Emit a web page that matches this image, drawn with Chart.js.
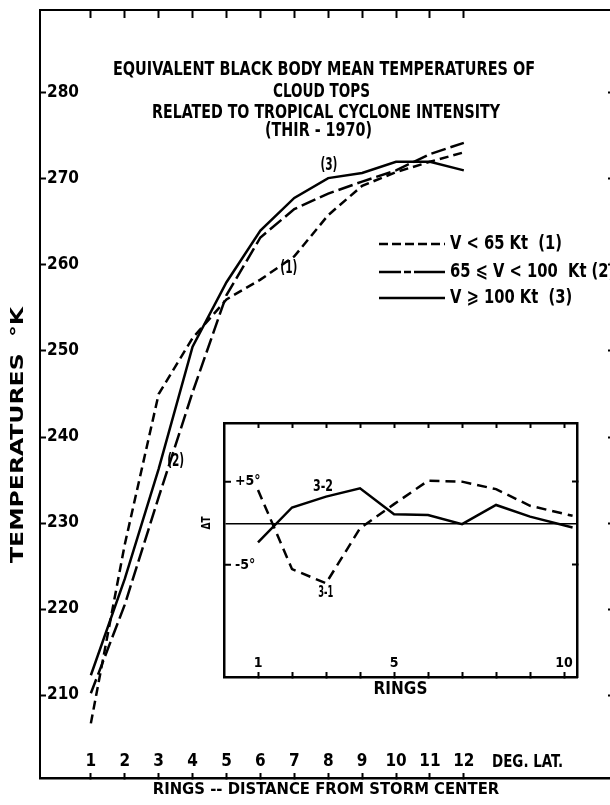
<!DOCTYPE html>
<html><head><meta charset="utf-8">
<script src="https://cdn.jsdelivr.net/npm/chart.js@4.4.1/dist/chart.umd.min.js"></script>
<style>
html,body{margin:0;padding:0;background:#fff;overflow:hidden;width:610px;height:805px;}
#wrap{position:relative;width:610px;height:805px;overflow:hidden;background:#fff;}
#main{position:absolute;left:0;top:0;}
#inset{position:absolute;left:200px;top:400px;}
</style></head><body>
<div id="wrap">
<canvas id="main" width="616" height="805"></canvas>
<canvas id="inset" width="400" height="300"></canvas>
</div>
<script>
// ---------- data ----------
const rings = [1,2,3,4,5,6,7,8,9,10,11,12];
const tempWeak     = [206.7, 227.5, 245.0, 251.5, 256.0, 258.3, 261.0, 265.8, 269.2, 270.8, 272.0, 273.1]; // V < 65 Kt (1)
const tempModerate = [210.2, 220.5, 233.0, 245.2, 256.5, 263.2, 266.5, 268.3, 269.7, 271.0, 272.9, 274.2]; // 65 <= V < 100 Kt (2)
const tempStrong   = [212.3, 223.5, 236.3, 250.5, 258.0, 264.0, 267.8, 270.1, 270.7, 272.0, 272.0, 271.0]; // V >= 100 Kt (3)
const tempTicks = [210,220,230,240,250,260,270,280];

const insetRings = [1,2,3,4,5,6,7,8,9,10.25];
const diff31 = [4.0, -5.5, -7.2, -0.6, 2.3, 5.1, 5.0, 4.1, 2.1, 0.9];   // 3-1
const diff32 = [-2.3, 1.9, 3.2, 4.2, 1.1, 1.0, -0.1, 2.2, 0.8, -0.5];   // 3-2
const insetTickRings = [1,2,3,4,5,6,7,8,9,10];
const insetLabeledRings = [1,5,10];
const insetDiffTicks = [-5,0,5];

const titleLines = ['EQUIVALENT BLACK BODY MEAN TEMPERATURES OF','CLOUD TOPS','RELATED TO TROPICAL CYCLONE INTENSITY','(THIR - 1970)'];
const seriesNames = ['V < 65 Kt  (1)','65 \u2A7D V < 100  Kt (2)','V \u2A7E 100 Kt  (3)'];
const curveTags = ['(1)','(2)','(3)'];
const yTitle = 'TEMPERATURES  \u00B0K';
const xTitle = 'RINGS -- DISTANCE FROM STORM CENTER';
const xUnit = 'DEG. LAT.';

// ---------- helpers ----------
const FONT = "'Liberation Sans Narrow','DejaVu Sans Condensed','Arial Narrow',sans-serif";
Chart.defaults.font.family = FONT;
Chart.defaults.font.weight = 'bold';
Chart.defaults.color = '#000';

function fitText(ctx, text, cx, cy, size, width, opts) {
  opts = opts || {};
  ctx.save();
  ctx.font = 'bold ' + size + 'px ' + FONT;
  const w = ctx.measureText(text).width;
  ctx.translate(cx, cy);
  if (opts.rotate) ctx.rotate(opts.rotate);
  const s = width ? width / w : 1;
  ctx.scale(s, 1);
  ctx.textAlign = opts.align || 'center';
  ctx.textBaseline = 'middle';
  ctx.fillStyle = '#000';
  ctx.fillText(text, 0, 0);
  ctx.restore();
}
const fixSize = (w, h) => s => {
  if (w != null) s.width = w;
  if (h != null) s.height = h;
  s.paddingLeft = s.paddingRight = s.paddingTop = s.paddingBottom = 0;
};
const setTicks = vals => s => { s.ticks = vals.map(v => ({value: v})); };
const pts = (xs, ys) => xs.map((x, i) => ({x: x, y: ys[i]}));

// ---------- main chart ----------
const annotMain = {
  id: 'annotMain',
  afterDraw(chart) {
    const ctx = chart.ctx;
    const xs = chart.scales.x, ys = chart.scales.y;
    // title
    const tPos = [[324,70,422],[321.5,92,97],[326,113,348],[318.5,131,107]];
    titleLines.forEach((t, i) => fitText(ctx, t, tPos[i][0], tPos[i][1], 19, tPos[i][2]));
    // legend
    const ly = [244, 272, 298];
    ctx.save();
    ctx.strokeStyle = '#000'; ctx.lineWidth = 2.5;
    const dashes = [[9,4],[22,3,7,3,30,0],[]];
    ly.forEach((y, i) => {
      ctx.setLineDash(dashes[i]);
      ctx.beginPath(); ctx.moveTo(379, y); ctx.lineTo(445, y); ctx.stroke();
    });
    ctx.restore();
    ctx.save();
    ctx.font = 'bold 19px ' + FONT;
    const sc = 112 / ctx.measureText(seriesNames[0]).width;
    ctx.restore();
    seriesNames.forEach((t, i) => {
      ctx.save();
      ctx.font = 'bold 19px ' + FONT;
      ctx.translate(450, ly[i]); ctx.scale(sc, 1);
      ctx.textAlign = 'left'; ctx.textBaseline = 'middle'; ctx.fillStyle = '#000';
      ctx.fillText(t, 0, 0);
      ctx.restore();
    });
    // curve tags anchored to data coordinates
    const tagAt = [[6.84, 259.6],[3.5, 237.1],[8.02, 271.6]];
    curveTags.forEach((t, i) => {
      fitText(ctx, t, xs.getPixelForValue(tagAt[i][0]), ys.getPixelForValue(tagAt[i][1]), 17, 17);
    });
    // axis title (vertical) and unit label
    fitText(ctx, yTitle, 18, 435, 18, 256, {rotate: -Math.PI / 2});
    fitText(ctx, xUnit, 527.5, 762, 18, 71);
  }
};

new Chart(document.getElementById('main'), {
  type: 'line',
  data: {datasets: [
    {label: seriesNames[0], data: pts(rings, tempWeak), borderColor: '#000', borderWidth: 2.5, borderDash: [9,5], pointRadius: 0, tension: 0, fill: false},
    {label: seriesNames[1], data: pts(rings, tempModerate), borderColor: '#000', borderWidth: 2.5, borderDash: [15,5], pointRadius: 0, tension: 0, fill: false},
    {label: seriesNames[2], data: pts(rings, tempStrong), borderColor: '#000', borderWidth: 2.5, pointRadius: 0, tension: 0, fill: false}
  ]},
  options: {
    responsive: false, animation: false, devicePixelRatio: 1,
    layout: {padding: 0},
    plugins: {legend: {display: false}, tooltip: {enabled: false}, title: {display: false}},
    scales: {
      x: {
        type: 'linear', position: 'bottom', min: -0.5, max: 16.37,
        afterBuildTicks: setTicks(rings), afterFit: fixSize(null, 27),
        grid: {drawOnChartArea: false, drawTicks: true, tickLength: -5, tickWidth: 2, tickColor: '#000'},
        border: {display: true, color: '#000', width: 2.5},
        ticks: {mirror: true, padding: 6, autoSkip: false, maxRotation: 0, color: '#000', font: {size: 17, weight: 'bold'}, callback: v => String(v)},
        title: {display: true, text: xTitle, color: '#000', font: {size: 16.5, weight: 'bold'}, padding: {top: 0, bottom: 5}}
      },
      x2: {
        type: 'linear', position: 'top', min: -0.5, max: 16.37,
        afterBuildTicks: setTicks(rings), afterFit: fixSize(null, 10),
        grid: {drawOnChartArea: false, drawTicks: true, tickLength: -8, tickWidth: 2, tickColor: '#000'},
        border: {display: true, color: '#000', width: 2},
        ticks: {display: false}
      },
      y: {
        type: 'linear', position: 'left', min: 200.35, max: 289.65,
        afterBuildTicks: setTicks(tempTicks), afterFit: fixSize(40, null),
        grid: {drawOnChartArea: false, drawTicks: true, tickLength: -6, tickWidth: 2, tickColor: '#000'},
        border: {display: true, color: '#000', width: 2},
        ticks: {mirror: true, padding: 7, autoSkip: false, color: '#000', font: {size: 17, weight: 'bold'}, callback: v => String(v)}
      },
      y2: {
        type: 'linear', position: 'right', min: 200.35, max: 289.65,
        afterBuildTicks: setTicks(tempTicks), afterFit: fixSize(4, null),
        grid: {drawOnChartArea: false, drawTicks: true, tickLength: -4, tickWidth: 2, tickColor: '#000'},
        border: {display: true, color: '#000', width: 2},
        ticks: {display: false}
      }
    }
  },
  plugins: [annotMain]
});

// ---------- inset chart ----------
const annotInset = {
  id: 'annotInset',
  afterDraw(chart) {
    const ctx = chart.ctx;
    const xs = chart.scales.x, ys = chart.scales.y;
    fitText(ctx, '3-2', xs.getPixelForValue(2.91), ys.getPixelForValue(4.3), 15, 20);
    fitText(ctx, '3-1', xs.getPixelForValue(2.99), ys.getPixelForValue(-8.4), 15, 15);
    fitText(ctx, '\u0394T', 7, 123, 12, 13, {rotate: -Math.PI / 2});
  }
};

new Chart(document.getElementById('inset'), {
  type: 'line',
  data: {datasets: [
    {label: '3-1', data: pts(insetRings, diff31), borderColor: '#000', borderWidth: 2.5, borderDash: [10,6], pointRadius: 0, tension: 0, fill: false},
    {label: '3-2', data: pts(insetRings, diff32), borderColor: '#000', borderWidth: 2.5, pointRadius: 0, tension: 0, fill: false}
  ]},
  options: {
    responsive: false, animation: false, devicePixelRatio: 1,
    layout: {padding: 0},
    plugins: {legend: {display: false}, tooltip: {enabled: false}},
    scales: {
      x: {
        type: 'linear', position: 'bottom', min: 0, max: 10.38,
        afterBuildTicks: setTicks(insetTickRings), afterFit: fixSize(null, 23),
        grid: {drawOnChartArea: false, drawTicks: true, tickLength: -5, tickWidth: 2, tickColor: '#000'},
        border: {display: true, color: '#000', width: 2.5},
        ticks: {mirror: true, padding: 5, autoSkip: false, maxRotation: 0, color: '#000', font: {size: 14, weight: 'bold'},
                callback: v => insetLabeledRings.includes(v) ? String(v) : ''},
        title: {display: true, text: 'RINGS', color: '#000', font: {size: 17, weight: 'bold'}, padding: {top: 0, bottom: 0}}
      },
      x2: {
        type: 'linear', position: 'top', min: 0, max: 10.38,
        afterBuildTicks: setTicks(insetTickRings), afterFit: fixSize(null, 23),
        grid: {drawOnChartArea: false, drawTicks: true, tickLength: -5, tickWidth: 2, tickColor: '#000'},
        border: {display: true, color: '#000', width: 2.5},
        ticks: {display: false}
      },
      y: {
        type: 'linear', position: 'left', min: -18.45, max: 12.04,
        afterBuildTicks: setTicks(insetDiffTicks), afterFit: fixSize(24, null),
        grid: {drawOnChartArea: true, drawTicks: true, tickLength: -7, tickWidth: 2, lineWidth: 1.5,
               color: c => (c.tick && c.tick.value === 0) ? '#000' : 'rgba(0,0,0,0)',
               tickColor: c => (c.tick && c.tick.value === 0) ? 'rgba(0,0,0,0)' : '#000'},
        border: {display: true, color: '#000', width: 2.5},
        ticks: {mirror: true, padding: 11, autoSkip: false, color: '#000', font: {size: 14, weight: 'bold'},
                callback: v => v > 0 ? '+' + v + '\u00B0' : (v < 0 ? '-' + Math.abs(v) + '\u00B0' : '')}
      },
      y2: {
        type: 'linear', position: 'right', min: -18.45, max: 12.04,
        afterBuildTicks: setTicks(insetDiffTicks), afterFit: fixSize(23, null),
        grid: {drawOnChartArea: false, drawTicks: true, tickLength: -5, tickWidth: 2,
               tickColor: c => (c.tick && c.tick.value === 0) ? 'rgba(0,0,0,0)' : '#000'},
        border: {display: true, color: '#000', width: 2.5},
        ticks: {display: false}
      }
    }
  },
  plugins: [annotInset]
});
</script>
</body></html>
